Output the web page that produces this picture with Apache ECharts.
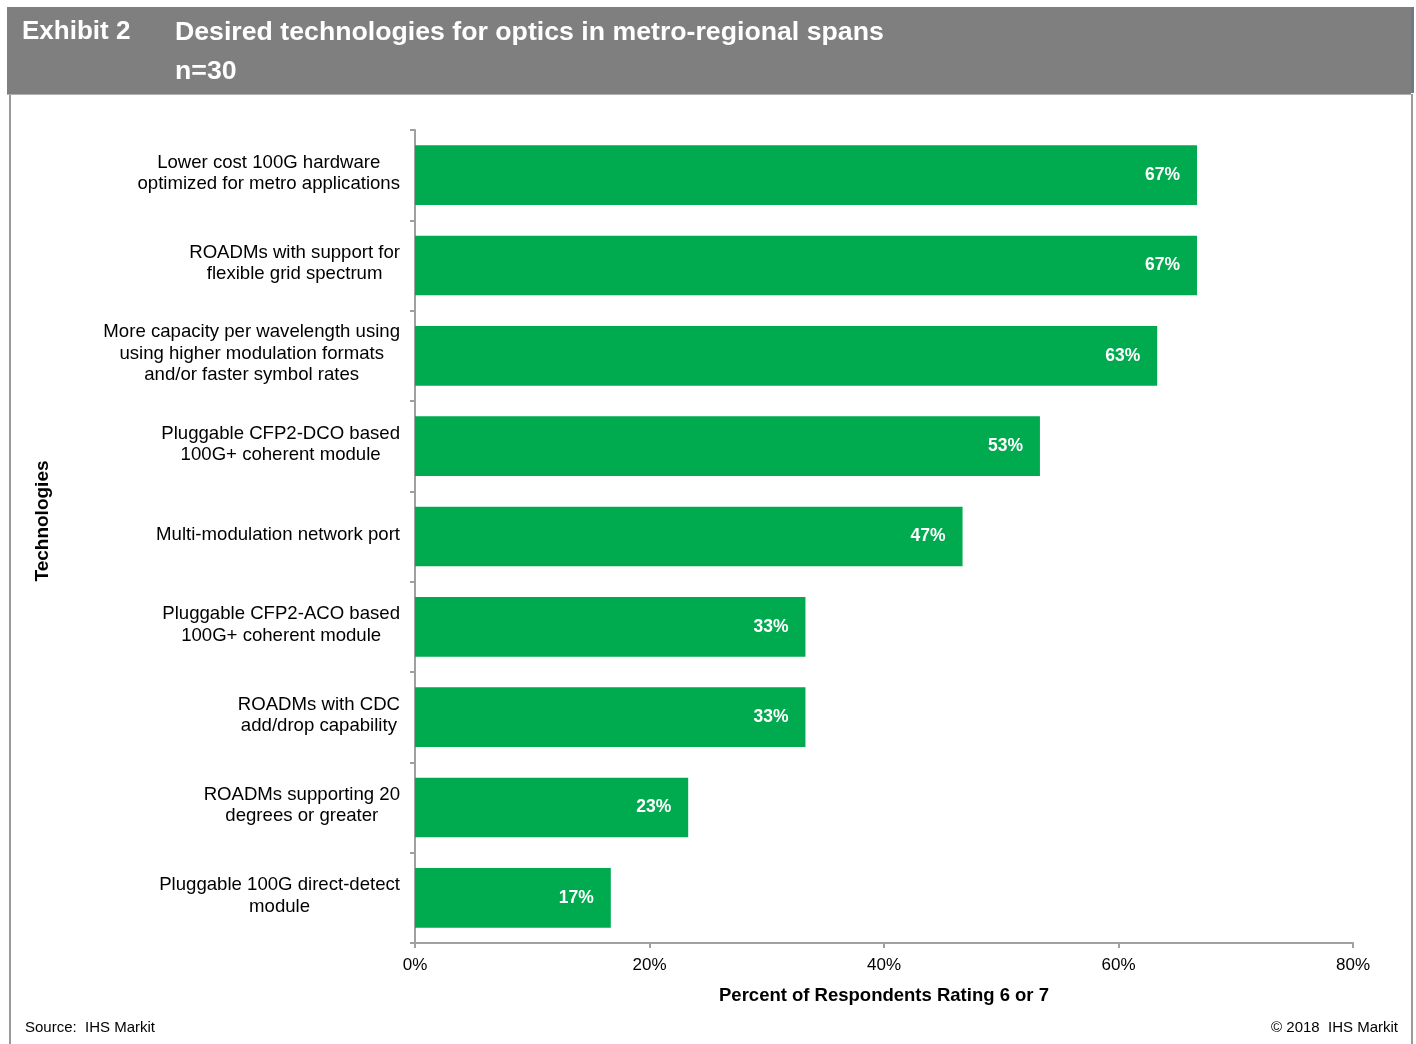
<!DOCTYPE html>
<html>
<head>
<meta charset="utf-8">
<script src="https://cdn.jsdelivr.net/npm/echarts@6/dist/echarts.min.js"></script>
<style>
  html, body { margin: 0; padding: 0; background: #ffffff; }
  #chart { width: 1416px; height: 1044px; }
</style>
</head>
<body>
<div id="chart"></div>
<script>
// Technologies, listed top to bottom
const categories = [
  'Lower cost 100G hardware\noptimized for metro applications',
  'ROADMs with support for\nflexible grid spectrum',
  'More capacity per wavelength using\nusing higher modulation formats\nand/or faster symbol rates',
  'Pluggable CFP2-DCO based\n100G+ coherent module',
  'Multi-modulation network port',
  'Pluggable CFP2-ACO based\n100G+ coherent module',
  'ROADMs with CDC\nadd/drop capability',
  'ROADMs supporting 20\ndegrees or greater',
  'Pluggable 100G direct-detect\nmodule'
];

// Percent of respondents rating 6 or 7 (n=30)
const percentValues = [66.7, 66.7, 63.3, 53.3, 46.7, 33.3, 33.3, 23.3, 16.7];

// Value axis ticks
const axisTicks = [0, 20, 40, 60, 80];

const FONT = '"Liberation Sans", Arial, sans-serif';
const AXIS_GRAY = '#a0a0a0';

const chart = echarts.init(document.getElementById('chart'), null, { renderer: 'canvas' });

chart.setOption({
  backgroundColor: '#ffffff',
  animation: false,
  graphic: [
    // header band
    { type: 'rect', shape: { x: 7, y: 7, width: 1404, height: 87 }, style: { fill: '#7f7f7f' }, z: 0 },
    { type: 'rect', shape: { x: 1411, y: 7, width: 3, height: 86 }, style: { fill: '#6f7a88' }, z: 0 },
    // panel frame
    { type: 'line', shape: { x1: 10, y1: 94, x2: 10, y2: 1044 }, style: { stroke: '#9a9a9a', lineWidth: 2 }, z: 0 },
    { type: 'line', shape: { x1: 1412, y1: 94, x2: 1412, y2: 1044 }, style: { stroke: '#9a9a9a', lineWidth: 2 }, z: 0 },
    { type: 'line', shape: { x1: 7, y1: 94.5, x2: 1411, y2: 94.5 }, style: { stroke: '#b0b0b0', lineWidth: 1 }, z: 0 },
    // header text
    { type: 'text', left: 22, top: 19, style: { text: 'Exhibit 2', fill: '#ffffff', font: 'bold 26px ' + FONT }, z: 5 },
    { type: 'text', left: 175, top: 19, style: { text: 'Desired technologies for optics in metro-regional spans', fill: '#ffffff', font: 'bold 26.7px ' + FONT }, z: 5 },
    { type: 'text', left: 175, top: 58, style: { text: 'n=30', fill: '#ffffff', font: 'bold 26.7px ' + FONT }, z: 5 },
    // category-axis title on the left, rotated
    { type: 'text', x: 43, y: 521, rotation: Math.PI / 2,
      style: { text: 'Technologies', fill: '#000000', font: 'bold 19px ' + FONT, align: 'center', verticalAlign: 'middle' }, z: 5 },
    // footer text
    { type: 'text', left: 25, top: 1020, style: { text: 'Source:  IHS Markit', fill: '#000000', font: '15px ' + FONT }, z: 5 },
    { type: 'text', right: 18, top: 1020, style: { text: '\u00a9 2018  IHS Markit', fill: '#000000', font: '15px ' + FONT, align: 'right' }, z: 5 }
  ],
  grid: { left: 415, right: 63, top: 130, bottom: 101, containLabel: false },
  xAxis: {
    type: 'value',
    min: axisTicks[0],
    max: axisTicks[axisTicks.length - 1],
    interval: axisTicks[1] - axisTicks[0],
    name: 'Percent of Respondents Rating 6 or 7',
    nameLocation: 'middle',
    nameGap: 43,
    nameTextStyle: { fontFamily: FONT, fontSize: 18.5, fontWeight: 'bold', color: '#000000' },
    axisLine: { show: true, lineStyle: { color: AXIS_GRAY, width: 2 } },
    axisTick: { show: true, length: 5, lineStyle: { color: AXIS_GRAY, width: 2 } },
    splitLine: { show: false },
    axisLabel: { formatter: '{value}%', margin: 14, fontFamily: FONT, fontSize: 17, color: '#000000' }
  },
  yAxis: {
    type: 'category',
    data: categories,
    inverse: true,
    axisLine: { show: true, lineStyle: { color: AXIS_GRAY, width: 2 } },
    axisTick: { show: true, length: 5, lineStyle: { color: AXIS_GRAY, width: 2 } },
    axisLabel: {
      margin: 15,
      align: 'right',
      padding: [0, 0, 4, 0],
      fontFamily: FONT,
      fontSize: 18.6,
      lineHeight: 21.5,
      color: '#000000',
      formatter: function (v) {
        return v.split('\n').map(function (l) { return '{c|' + l + '}'; }).join('\n');
      },
      rich: { c: { align: 'center', fontFamily: FONT, fontSize: 18.6, lineHeight: 21.5, color: '#000000' } }
    }
  },
  series: [{
    type: 'bar',
    data: percentValues,
    barCategoryGap: '34%',
    itemStyle: { color: '#00aa4f' },
    label: {
      show: true,
      position: 'insideRight',
      distance: 17,
      color: '#ffffff',
      fontFamily: FONT,
      fontSize: 17.5,
      fontWeight: 'bold',
      formatter: function (p) { return Math.round(p.value) + '%'; }
    }
  }]
});
</script>
</body>
</html>
